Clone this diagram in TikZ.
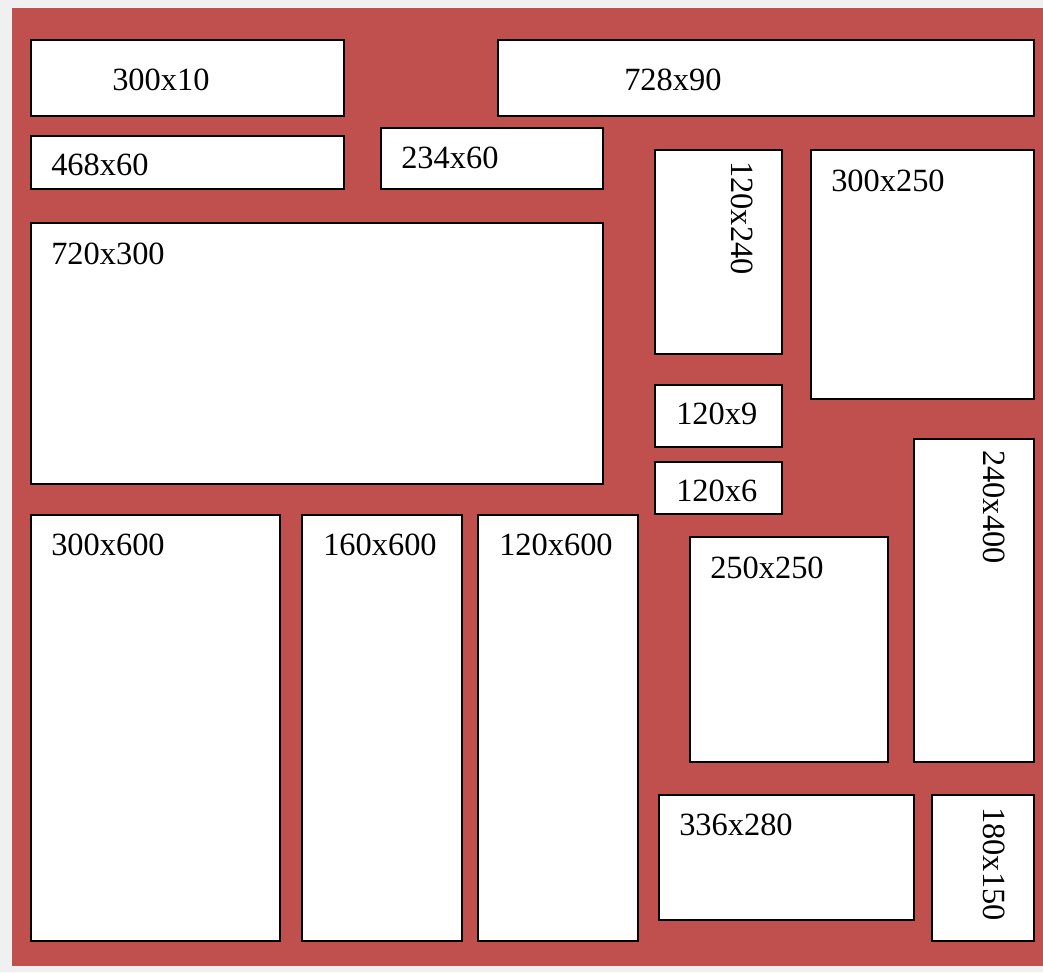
\documentclass[tikz,border=0pt]{standalone}
\usepackage{fontspec}
\setmainfont{Liberation Serif}
\usetikzlibrary{fit}
\definecolor{pagegray}{HTML}{F0F0F0}
\definecolor{adred}{HTML}{C0504D}
\tikzset{
  adbox/.style={draw=black, fill=white, line width=1.2pt, inner sep=0pt},
  adlabel/.style={anchor=base west, inner sep=0pt, font=\fontsize{24.3}{28}\selectfont},
  vlabel/.style={adlabel, rotate=-90}
}
\begin{document}
\begin{tikzpicture}[x=0.75pt, y=-0.75pt]
\useasboundingbox (0,0) rectangle (1043,972);
\fill[pagegray] (0,0) rectangle (1043,972);
\fill[adred] (12,8) rectangle (1043,966);
% boxes
\node[adbox, fit={(31,40) (344,116)}] (b300x10) {};
\node[adbox, fit={(498,40) (1034,116)}] (b728x90) {};
\node[adbox, fit={(31,136) (344,189)}] (b468x60) {};
\node[adbox, fit={(381,128) (603,189)}] (b234x60) {};
\node[adbox, fit={(31,223) (603,484)}] (b720x300) {};
\node[adbox, fit={(655,150) (782,354)}] (b120x240) {};
\node[adbox, fit={(811,150) (1034,399)}] (b300x250) {};
\node[adbox, fit={(655,385) (782,447)}] (b120x9) {};
\node[adbox, fit={(655,462) (782,514)}] (b120x6) {};
\node[adbox, fit={(31,515) (280,941)}] (b300x600) {};
\node[adbox, fit={(302,515) (462,941)}] (b160x600) {};
\node[adbox, fit={(478,515) (638,941)}] (b120x600) {};
\node[adbox, fit={(690,537) (888,762)}] (b250x250) {};
\node[adbox, fit={(914,439) (1034,762)}] (b240x400) {};
\node[adbox, fit={(659,795) (914,920)}] (b336x280) {};
\node[adbox, fit={(932,795) (1034,941)}] (b180x150) {};
% labels
\node[adlabel] (t300x10) at (112,90.5) {300x10};
\node[adlabel] (t728x90) at (624,90.5) {728x90};
\node[adlabel] (t468x60) at (51,175) {468x60};
\node[adlabel] (t234x60) at (401,168) {234x60};
\node[adlabel] (t720x300) at (51,264) {720x300};
\node[vlabel] (t120x240) at (731,161) {120x240};
\node[adlabel] (t300x250) at (831,191) {300x250};
\node[adlabel] (t120x9) at (676,424) {120x9};
\node[adlabel] (t120x6) at (676,501) {120x6};
\node[adlabel] (t300x600) at (51,555) {300x600};
\node[adlabel] (t160x600) at (323,555) {160x600};
\node[adlabel] (t120x600) at (499,555) {120x600};
\node[adlabel] (t250x250) at (710,578) {250x250};
\node[vlabel] (t240x400) at (983,450) {240x400};
\node[adlabel] (t336x280) at (679,835) {336x280};
\node[vlabel] (t180x150) at (983,807) {180x150};
\end{tikzpicture}
\end{document}
